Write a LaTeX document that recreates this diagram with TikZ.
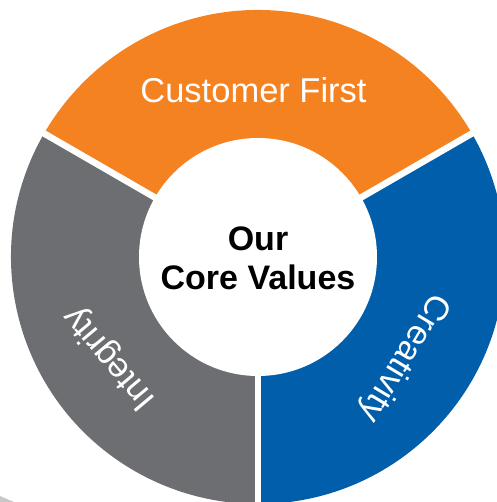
\documentclass[tikz,border=0pt]{standalone}
\usepackage{fontspec}
\setmainfont{Liberation Sans}
\definecolor{valorange}{RGB}{245,130,32}
\definecolor{valblue}{RGB}{0,94,170}
\definecolor{valgray}{RGB}{109,110,113}
\tikzset{
  seglabel/.style={text=white,inner sep=0pt,font=\fontsize{34.5}{38}\selectfont},
  corelabel/.style={align=center,inner sep=0pt,font=\bfseries\fontsize{34}{39}\selectfont}
}
\begin{document}
\begin{tikzpicture}[x=1pt,y=1pt]
  \useasboundingbox (-258,-245) rectangle (238,257);
  \fill[black!22] (-258,-245) -- (-258,-239) -- (-244,-245) -- cycle;
  \fill[valorange] (0,0) -- (30:247pt) arc (30:150:247pt) -- cycle;
  \fill[valgray] (0,0) -- (150:247pt) arc (150:270:247pt) -- cycle;
  \fill[valblue] (0,0) -- (270:247pt) arc (270:390:247pt) -- cycle;
  \begin{scope}[white,line width=6.5pt]
    \draw (0,0) -- (30:260pt);
    \draw (0,0) -- (150:260pt);
    \draw (0,0) -- (270:260pt);
  \end{scope}
  \fill[white] (0,0) circle (119pt);
  \draw
    (-4.5,154) node[seglabel,anchor=base] (first) {Customer First}
    (-34.6:177pt) node[seglabel,rotate=-121] (creat) {Creativity}
    (214.3:179pt) node[seglabel,rotate=130] (integ) {Integrity}
    (0,-1) node[corelabel] (core) {Our\\Core Values};
\end{tikzpicture}
\end{document}
